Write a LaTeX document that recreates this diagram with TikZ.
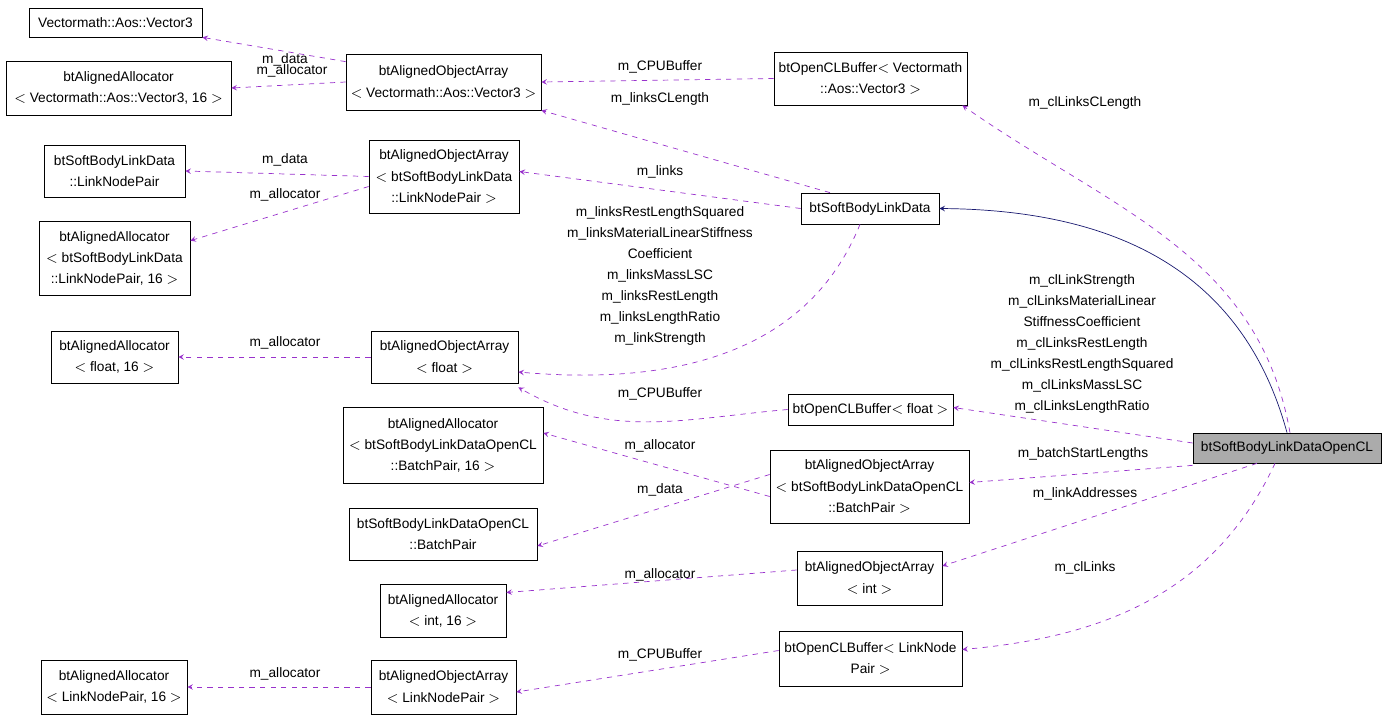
\documentclass[tikz,border=0pt]{standalone}
\usepackage{fontspec}
\setmainfont{Liberation Sans}
\usetikzlibrary{arrows}
\definecolor{depcolor}{RGB}{153, 50, 204}
\definecolor{inhcolor}{RGB}{25, 25, 112}
\tikzstyle{cls} = [rectangle, draw=black, fill=white, align=center,
                   inner sep=1pt, font=\fontsize{7.8}{12}\selectfont]
\tikzstyle{lbl} = [align=center, inner sep=0pt, font=\fontsize{7.8}{12}\selectfont]
\tikzstyle{dep} = [depcolor, dashed, ->, >=stealth]
\tikzstyle{inh} = [inhcolor, ->, >=stealth]

\begin{document}
\begin{tikzpicture}[x=0.02cm, y=-0.02cm]
    \useasboundingbox (0,0) rectangle (1387,720);

        \node (V3) [cls, minimum width=173*0.02cm, minimum height=29*0.02cm] at (115.5,22.5) {Vectormath::Aos::Vector3};
        \node (AllocV3) [cls, minimum width=225*0.02cm, minimum height=54*0.02cm] at (118.5,88) {btAlignedAllocator\\$<$ Vectormath::Aos::Vector3, 16 $>$};
        \node (AOAV3) [cls, minimum width=195*0.02cm, minimum height=56*0.02cm] at (443.5,82) {btAlignedObjectArray\\$<$ Vectormath::Aos::Vector3 $>$};
        \node (CLBufV3) [cls, minimum width=193*0.02cm, minimum height=53*0.02cm] at (870.5,78.5) {btOpenCLBuffer$<$ Vectormath\\::Aos::Vector3 $>$};
        \node (LNP) [cls, minimum width=141*0.02cm, minimum height=52*0.02cm] at (114.5,171) {btSoftBodyLinkData\\::LinkNodePair};
        \node (AllocLNP) [cls, minimum width=151*0.02cm, minimum height=74*0.02cm] at (114.5,258) {btAlignedAllocator\\$<$ btSoftBodyLinkData\\::LinkNodePair, 16 $>$};
        \node (AOALNP) [cls, minimum width=150*0.02cm, minimum height=73*0.02cm] at (444,176.5) {btAlignedObjectArray\\$<$ btSoftBodyLinkData\\::LinkNodePair $>$};
        \node (SBLD) [cls, minimum width=138*0.02cm, minimum height=31*0.02cm] at (870,208.5) {btSoftBodyLinkData};
        \node (AllocF) [cls, minimum width=127*0.02cm, minimum height=52*0.02cm] at (114.5,357) {btAlignedAllocator\\$<$ float, 16 $>$};
        \node (AOAF) [cls, minimum width=147*0.02cm, minimum height=52*0.02cm] at (444.5,357) {btAlignedObjectArray\\$<$ float $>$};
        \node (CLBufF) [cls, minimum width=165*0.02cm, minimum height=31*0.02cm] at (870.5,409.5) {btOpenCLBuffer$<$ float $>$};
        \node (AllocBP) [cls, minimum width=200*0.02cm, minimum height=76*0.02cm] at (443,445) {btAlignedAllocator\\$<$ btSoftBodyLinkDataOpenCL\\::BatchPair, 16 $>$};
        \node (AOABP) [cls, minimum width=199*0.02cm, minimum height=73*0.02cm] at (869.5,486.5) {btAlignedObjectArray\\$<$ btSoftBodyLinkDataOpenCL\\::BatchPair $>$};
        \node (SBLDBP) [cls, minimum width=188*0.02cm, minimum height=52*0.02cm] at (443,534) {btSoftBodyLinkDataOpenCL\\::BatchPair};
        \node (AOAI) [cls, minimum width=145*0.02cm, minimum height=54*0.02cm] at (869.5,578) {btAlignedObjectArray\\$<$ int $>$};
        \node (AllocI) [cls, minimum width=126*0.02cm, minimum height=53*0.02cm] at (443,610.5) {btAlignedAllocator\\$<$ int, 16 $>$};
        \node (CLBufLNP) [cls, minimum width=183*0.02cm, minimum height=55*0.02cm] at (870.5,658.5) {btOpenCLBuffer$<$ LinkNode\\Pair $>$};
        \node (AllocLNP16) [cls, minimum width=146*0.02cm, minimum height=54*0.02cm] at (114,687) {btAlignedAllocator\\$<$ LinkNodePair, 16 $>$};
        \node (AOALNP2) [cls, minimum width=145*0.02cm, minimum height=54*0.02cm] at (443.5,687) {btAlignedObjectArray\\$<$ LinkNodePair $>$};
        \node (Main) [cls, fill=black!33, minimum width=188*0.02cm, minimum height=30*0.02cm] at (1287,448) {btSoftBodyLinkDataOpenCL};

        % members of the array classes
        \draw [dep] ([yshift=-8*0.02cm]AOAV3.north west) -- (V3.south east);
        \draw [dep] (AOAV3.west) -- (AllocV3.east);
        \draw [dep] (AOALNP.west) -- (LNP.east);
        \draw [dep] ([yshift=-10*0.02cm]AOALNP.west) -- ([yshift=-20*0.02cm]AllocLNP.north east);
        \draw [dep] (AOAF.west) -- (AllocF.east);
        \draw [dep] ([yshift=-10*0.02cm]AOABP.west) -- ([yshift=12*0.02cm]AllocBP.east);
        \draw [dep] ([yshift=12*0.02cm]AOABP.west) -- ([yshift=-12*0.02cm]SBLDBP.east);
        \draw [dep] ([yshift=8*0.02cm]AOAI.west) -- ([yshift=18*0.02cm]AllocI.east);
        \draw [dep] (AOALNP2.west) -- (AllocLNP16.east);
        \draw [dep] ([yshift=8*0.02cm]CLBufLNP.west) -- ([yshift=-5*0.02cm]AOALNP2.east);

        % buffers and link data
        \draw [dep] (CLBufV3.west) -- (AOAV3.east);
        \draw [dep] ([xshift=-40*0.02cm]SBLD.north) -- (AOAV3.south east);
        \draw [dep] (SBLD.west) -- ([yshift=5*0.02cm]AOALNP.east);
        \draw [dep] ([xshift=-10*0.02cm]SBLD.south) to[out=-112, in=-5] ([yshift=-15*0.02cm]AOAF.east);
        \draw [dep] (CLBufF.west) to[out=185, in=-30] ([yshift=-4*0.02cm]AOAF.south east);

        % the opencl link data
        \draw [inh] (Main.north) .. controls (1240,260) and (1100,210) .. (SBLD.east);
        \draw [dep] ([xshift=3*0.02cm]Main.north) to[out=100, in=-35] ([xshift=-5*0.02cm]CLBufV3.south east);
        \draw [dep] ([yshift=5*0.02cm]Main.west) -- ([yshift=2*0.02cm]CLBufF.east);
        \draw [dep] ([yshift=-2*0.02cm]Main.south west) -- ([yshift=4*0.02cm]AOABP.east);
        \draw [dep] ([xshift=-30*0.02cm]Main.south) -- ([yshift=12*0.02cm]AOAI.east);
        \draw [dep] ([xshift=-12*0.02cm]Main.south) to[out=-115, in=5] ([yshift=9*0.02cm]CLBufLNP.east);

        \node (lV3data) [lbl] at (285,60) {m\_data};
        \node (lV3alloc) [lbl] at (292,71) {m\_allocator};
        \node (lV3cpu) [lbl] at (660,67) {m\_CPUBuffer};
        \node (lcl) [lbl] at (660,99) {m\_linksCLength};
        \node (lLNPdata) [lbl] at (285,160) {m\_data};
        \node (lLNPalloc) [lbl] at (285,195) {m\_allocator};
        \node (llinks) [lbl] at (660,172) {m\_links};
        \node (lfloats) [lbl] at (660,276) {m\_linksRestLengthSquared\\m\_linksMaterialLinearStiffness\\Coefficient\\m\_linksMassLSC\\m\_linksRestLength\\m\_linksLengthRatio\\m\_linkStrength};
        \node (lFalloc) [lbl] at (285,343) {m\_allocator};
        \node (lFcpu) [lbl] at (660,394) {m\_CPUBuffer};
        \node (lBPalloc) [lbl] at (660,446) {m\_allocator};
        \node (lBPdata) [lbl] at (660,490) {m\_data};
        \node (lIalloc) [lbl] at (660,575) {m\_allocator};
        \node (lLNPcpu) [lbl] at (660,655) {m\_CPUBuffer};
        \node (lLNP16alloc) [lbl] at (285,674) {m\_allocator};
        \node (lclcl) [lbl] at (1085,103) {m\_clLinksCLength};
        \node (lclfloats) [lbl] at (1082,344) {m\_clLinkStrength\\m\_clLinksMaterialLinear\\StiffnessCoefficient\\m\_clLinksRestLength\\m\_clLinksRestLengthSquared\\m\_clLinksMassLSC\\m\_clLinksLengthRatio};
        \node (lbatch) [lbl] at (1083,454) {m\_batchStartLengths};
        \node (laddr) [lbl] at (1085,494) {m\_linkAddresses};
        \node (lcllinks) [lbl] at (1085,568) {m\_clLinks};

    \end{tikzpicture}
\end{document}
